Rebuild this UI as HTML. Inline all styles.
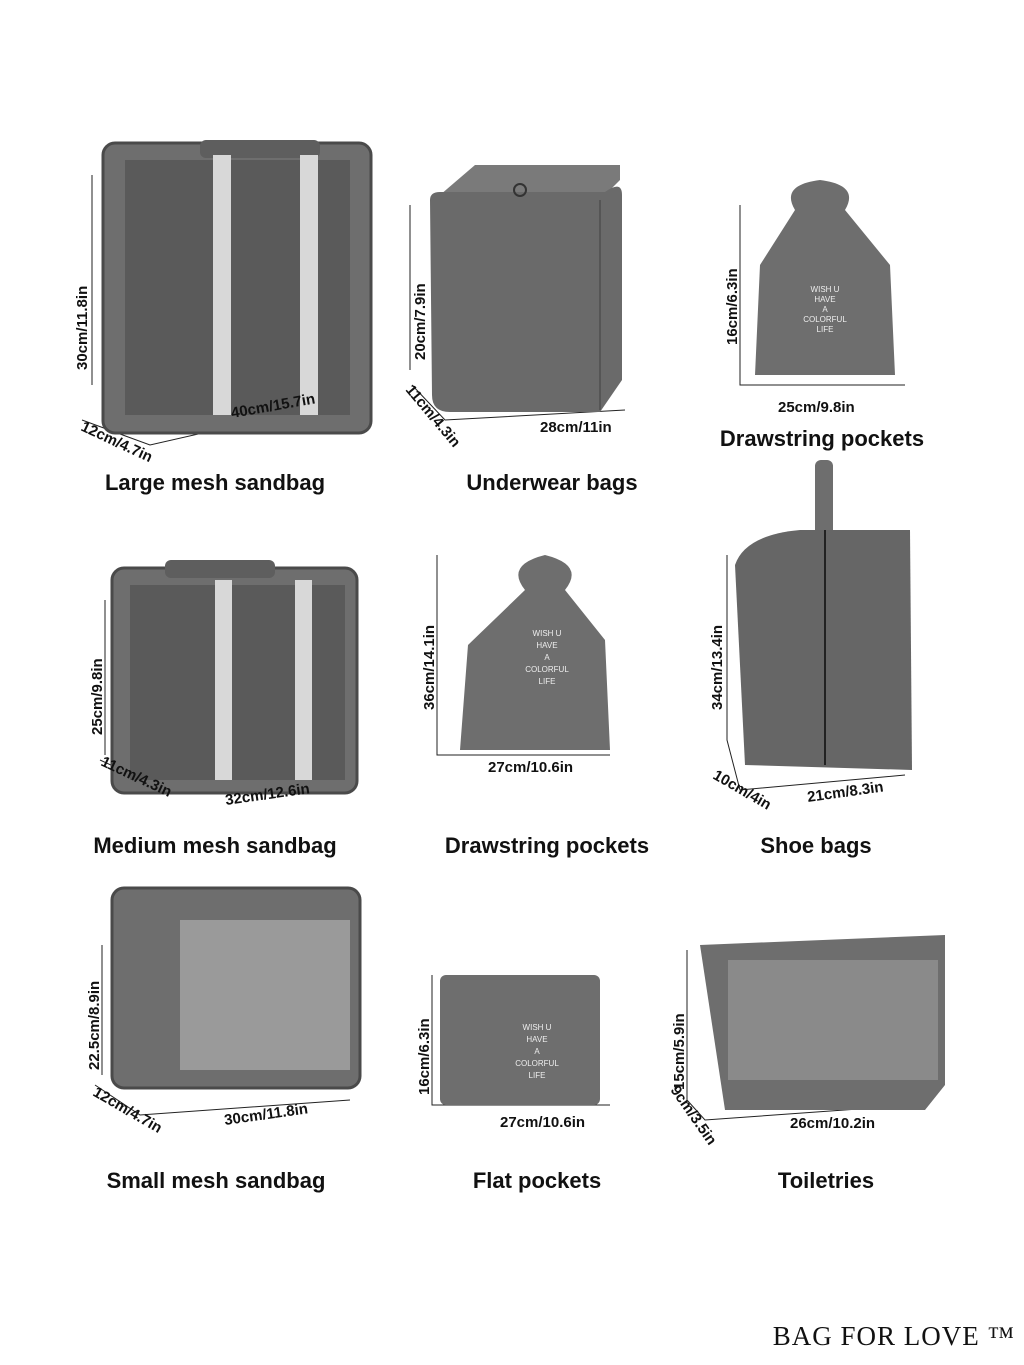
<!DOCTYPE html>
<html><head><meta charset="utf-8"><style>
html,body{margin:0;padding:0;background:#fff;}
svg{display:block;}
.lbl{font-family:"Liberation Sans",sans-serif;font-size:22px;font-weight:bold;fill:#111;text-anchor:middle;}
.dim{font-family:"Liberation Sans",sans-serif;font-size:15px;font-weight:bold;fill:#111;}
.w{font-family:"Liberation Sans",sans-serif;font-size:8px;fill:#eee;text-anchor:middle;}
</style></head><body>
<svg width="1024" height="1365" viewBox="0 0 1024 1365" xmlns="http://www.w3.org/2000/svg">
<rect width="1024" height="1365" fill="#fff"/>
<g stroke="#222" stroke-width="1" fill="none">
<path d="M92 175 V385 M82 420 L150 445 L370 395"/>
<path d="M410 205 V370 M412 385 L445 420 L625 410"/>
<path d="M740 205 V385 L905 385"/>
<path d="M105 600 V755 M100 760 L165 790 L355 770"/>
<path d="M437 555 V755 L610 755"/>
<path d="M727 555 V740 L740 790 L905 775"/>
<path d="M102 945 V1075 M95 1085 L140 1115 L350 1100"/>
<path d="M432 975 V1105 L610 1105"/>
<path d="M687 950 V1100 L705 1120 L915 1105"/>
</g>
<!-- Large mesh -->
<rect x="103" y="143" width="268" height="290" rx="12" fill="#6e6e6e" stroke="#4a4a4a" stroke-width="3"/>
<rect x="200" y="140" width="120" height="18" rx="6" fill="#5e5e5e"/>
<rect x="125" y="160" width="225" height="255" fill="#5a5a5a"/>
<rect x="213" y="155" width="18" height="260" fill="#d8d8d8"/>
<rect x="300" y="155" width="18" height="260" fill="#d8d8d8"/>
<!-- Underwear -->
<path d="M440 195 L475 165 L620 165 L620 180 L600 200 Z" fill="#7a7a7a"/>
<path d="M430 200 Q430 192 440 192 L605 192 Q622 180 622 195 L622 380 L600 412 L450 412 Q432 412 432 395 Z" fill="#6a6a6a"/>
<path d="M600 200 L600 410" stroke="#555" stroke-width="2"/>
<circle cx="520" cy="190" r="6" fill="none" stroke="#333" stroke-width="2"/>
<!-- Drawstring 1 -->
<path d="M795 210 Q780 185 820 180 Q860 185 845 210 L890 265 L895 375 L755 375 L760 265 Z" fill="#6e6e6e"/>
<text class="w" x="825" y="292">WISH U</text><text class="w" x="825" y="302">HAVE</text><text class="w" x="825" y="312">A</text><text class="w" x="825" y="322">COLORFUL</text><text class="w" x="825" y="332">LIFE</text>
<!-- Medium mesh -->
<rect x="112" y="568" width="245" height="225" rx="12" fill="#6e6e6e" stroke="#4a4a4a" stroke-width="3"/>
<rect x="165" y="560" width="110" height="18" rx="6" fill="#5e5e5e"/>
<rect x="130" y="585" width="215" height="195" fill="#5a5a5a"/>
<rect x="215" y="580" width="17" height="200" fill="#d8d8d8"/>
<rect x="295" y="580" width="17" height="200" fill="#d8d8d8"/>
<!-- Drawstring 2 -->
<path d="M525 590 Q505 565 545 555 Q585 565 565 590 L605 640 L610 750 L460 750 L468 645 Z" fill="#6e6e6e"/>
<text class="w" x="547" y="636">WISH U</text><text class="w" x="547" y="648">HAVE</text><text class="w" x="547" y="660">A</text><text class="w" x="547" y="672">COLORFUL</text><text class="w" x="547" y="684">LIFE</text>
<!-- Shoe bag -->
<rect x="815" y="460" width="18" height="80" rx="6" fill="#6e6e6e"/>
<path d="M735 565 Q745 535 800 530 L910 530 L912 770 L745 765 Z" fill="#666"/>
<path d="M825 530 V765" stroke="#222" stroke-width="2"/>
<!-- Small mesh -->
<rect x="112" y="888" width="248" height="200" rx="12" fill="#6e6e6e" stroke="#4a4a4a" stroke-width="3"/>
<rect x="180" y="920" width="170" height="150" fill="#9a9a9a"/>
<!-- Flat -->
<rect x="440" y="975" width="160" height="130" rx="6" fill="#6e6e6e"/>
<text class="w" x="537" y="1030">WISH U</text><text class="w" x="537" y="1042">HAVE</text><text class="w" x="537" y="1054">A</text><text class="w" x="537" y="1066">COLORFUL</text><text class="w" x="537" y="1078">LIFE</text>
<!-- Toiletries -->
<path d="M700 945 L945 935 L945 1085 L925 1110 L725 1110 Z" fill="#6e6e6e"/>
<rect x="728" y="960" width="210" height="120" fill="#8a8a8a"/>
<!-- dimension texts -->
<text class="dim" transform="translate(87 370) rotate(-90)">30cm/11.8in</text>
<text class="dim" transform="translate(80 430) rotate(25)">12cm/4.7in</text>
<text class="dim" transform="translate(232 418) rotate(-10)">40cm/15.7in</text>
<text class="dim" transform="translate(425 360) rotate(-90)">20cm/7.9in</text>
<text class="dim" transform="translate(405 390) rotate(50)">11cm/4.3in</text>
<text class="dim" x="540" y="432">28cm/11in</text>
<text class="dim" transform="translate(737 345) rotate(-90)">16cm/6.3in</text>
<text class="dim" x="778" y="412">25cm/9.8in</text>
<text class="dim" transform="translate(102 735) rotate(-90)">25cm/9.8in</text>
<text class="dim" transform="translate(100 765) rotate(25)">11cm/4.3in</text>
<text class="dim" transform="translate(226 805) rotate(-8)">32cm/12.6in</text>
<text class="dim" transform="translate(434 710) rotate(-90)">36cm/14.1in</text>
<text class="dim" x="488" y="772">27cm/10.6in</text>
<text class="dim" transform="translate(722 710) rotate(-90)">34cm/13.4in</text>
<text class="dim" transform="translate(712 778) rotate(30)">10cm/4in</text>
<text class="dim" transform="translate(808 802) rotate(-8)">21cm/8.3in</text>
<text class="dim" transform="translate(99 1070) rotate(-90)">22.5cm/8.9in</text>
<text class="dim" transform="translate(92 1095) rotate(30)">12cm/4.7in</text>
<text class="dim" transform="translate(225 1125) rotate(-8)">30cm/11.8in</text>
<text class="dim" transform="translate(429 1095) rotate(-90)">16cm/6.3in</text>
<text class="dim" x="500" y="1127">27cm/10.6in</text>
<text class="dim" transform="translate(684 1090) rotate(-90)">15cm/5.9in</text>
<text class="dim" transform="translate(670 1090) rotate(55)">9cm/3.5in</text>
<text class="dim" x="790" y="1128">26cm/10.2in</text>
<!-- labels -->
<text class="lbl" x="215" y="490">Large mesh sandbag</text>
<text class="lbl" x="552" y="490">Underwear bags</text>
<text class="lbl" x="822" y="446">Drawstring pockets</text>
<text class="lbl" x="215" y="853">Medium mesh sandbag</text>
<text class="lbl" x="547" y="853">Drawstring pockets</text>
<text class="lbl" x="816" y="853">Shoe bags</text>
<text class="lbl" x="216" y="1188">Small mesh sandbag</text>
<text class="lbl" x="537" y="1188">Flat pockets</text>
<text class="lbl" x="826" y="1188">Toiletries</text>
<text x="1015" y="1345" text-anchor="end" font-family="Liberation Serif,serif" font-size="27" fill="#111" letter-spacing="1">BAG FOR LOVE ™</text>
</svg>
</body></html>
